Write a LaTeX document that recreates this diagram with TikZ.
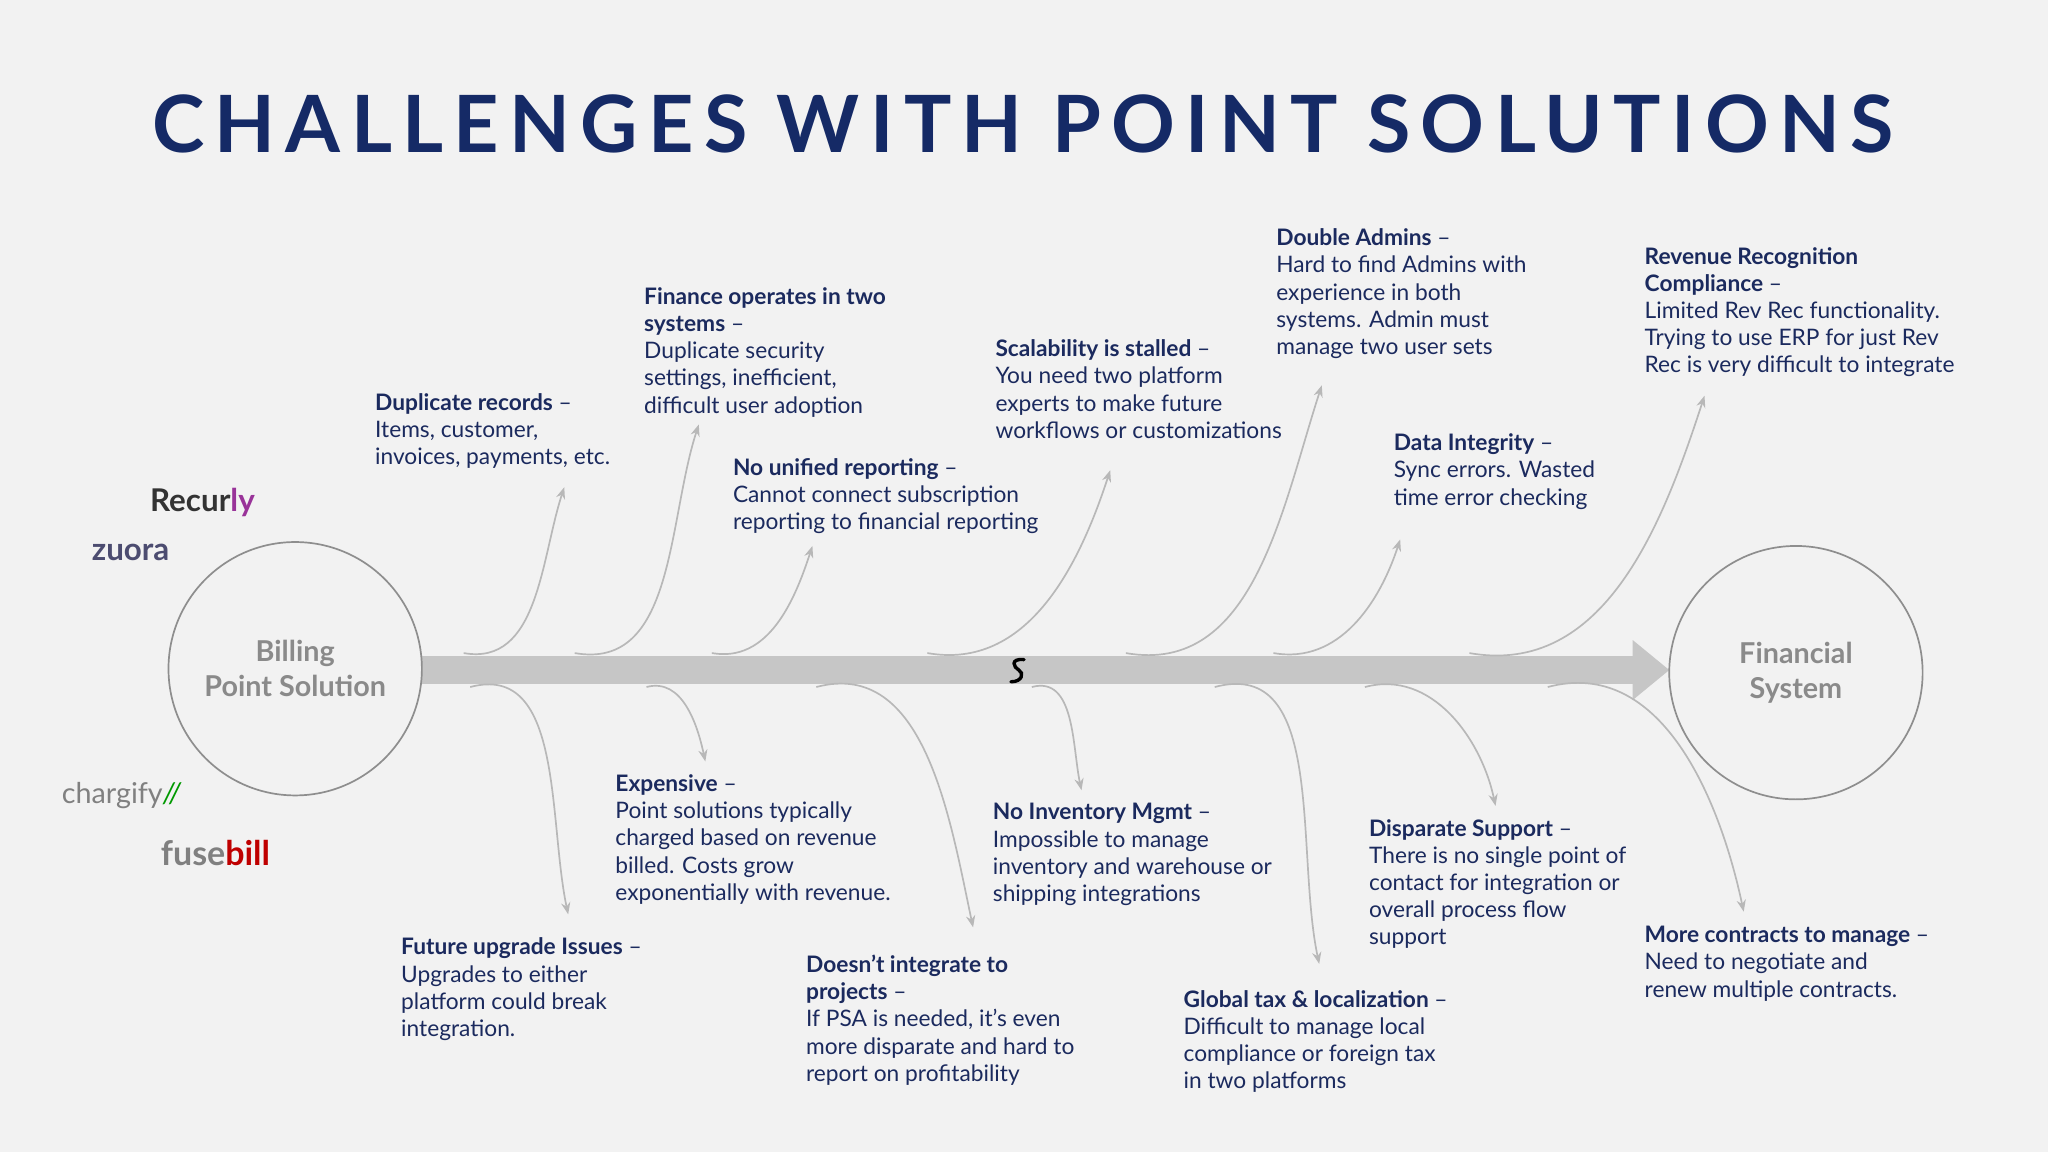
\documentclass[tikz,border=0pt]{standalone}
\usepackage{fontspec}
\setmainfont{Lato}
\newfontfamily\titlefont[LetterSpace=13]{Lato}
\usetikzlibrary{arrows.meta}
\definecolor{bg}{HTML}{F2F2F2}
\definecolor{navy}{HTML}{1B2A5E}
\definecolor{tnavy}{HTML}{152A66}
\definecolor{spine}{HTML}{C6C6C6}
\definecolor{branch}{HTML}{B8B8B8}
\definecolor{ring}{HTML}{8E8E8E}
\definecolor{ctext}{HTML}{8A8A8A}
\tikzset{
 txt/.style={anchor=north west,inner sep=0pt,align=left,text=navy,font=\fontsize{17.4}{20.8}\selectfont},
 br/.style={draw=branch,line width=1.3pt,-{Stealth[length=9pt,width=7pt]}},
 circ/.style={circle,draw=ring,line width=1.3pt,fill=bg,minimum size=194pt,text=ctext,align=center,font=\fontsize{22}{27}\selectfont\bfseries},
}
\begin{document}
\begin{tikzpicture}[x=1pt,y=-1pt]
\fill[bg] (0,0) rectangle (1568,882);
\useasboundingbox (0,0) rectangle (1568,882);
\node[text=tnavy,font=\fontsize{60.5}{61}\selectfont\titlefont\bfseries] (title) at (783,95) {CHALLENGES WITH POINT SOLUTIONS};
% spine
\fill[spine] (322,502) rectangle (1252,524);
\fill[spine] (1250,490) -- (1278,513) -- (1250,536) -- cycle;
\node[circ] (bill) at (226,512) {Billing\\Point Solution};
\node[circ] (fin) at (1375,515) {Financial\\System};
\coordinate (brk) at (779,513);
\draw[black,line width=2.6pt,line cap=round] ([shift={(5,-8)}]brk) .. controls ([shift={(-6,-9)}]brk) and ([shift={(-3,-2)}]brk) .. ([shift={(1,0)}]brk) .. controls ([shift={(5,2)}]brk) and ([shift={(4,9)}]brk) .. ([shift={(-5,9)}]brk);
% logos
\node[font=\fontsize{24}{24}\selectfont\bfseries,text=black!80] (recurly) at (155,385) {Recur\textcolor{violet!80}{ly}};
\node[font=\fontsize{24}{24}\selectfont\bfseries,text=black!65!blue!40!gray] (zuora) at (100,423) {zuora};
\node[font=\fontsize{22}{22}\selectfont,text=gray] (chargify) at (93,609) {chargify\textcolor{green!60!black}{\itshape//}};
\node[font=\fontsize{26}{26}\selectfont\bfseries,text=gray] (fusebill) at (165,653) {fuse\textcolor{red!75!black}{bill}};
% texts top
\node[txt] (t1) at (287,301) {\textbf{Duplicate records} –\\Items, customer,\\invoices, payments, etc.};
\node[txt] (t2) at (493,220) {\textbf{Finance operates in two}\\\textbf{systems} –\\Duplicate security\\settings, inefficient,\\difficult user adoption};
\node[txt] (t3) at (561,351) {\textbf{No unified reporting} –\\Cannot connect subscription\\reporting to financial reporting};
\node[txt] (t4) at (762,260) {\textbf{Scalability is stalled} –\\You need two platform\\experts to make future\\workflows or customizations};
\node[txt] (t5) at (977,175) {\textbf{Double Admins} –\\Hard to find Admins with\\experience in both\\systems. Admin must\\manage two user sets};
\node[txt] (t6) at (1067,332) {\textbf{Data Integrity} –\\Sync errors. Wasted\\time error checking};
\node[txt] (t7) at (1259,189) {\textbf{Revenue Recognition}\\\textbf{Compliance} –\\Limited Rev Rec functionality.\\Trying to use ERP for just Rev\\Rec is very difficult to integrate};
% texts bottom
\node[txt] (b1) at (307,718) {\textbf{Future upgrade Issues} –\\Upgrades to either\\platform could break\\integration.};
\node[txt] (b2) at (471,593) {\textbf{Expensive} –\\Point solutions typically\\charged based on revenue\\billed. Costs grow\\exponentially with revenue.};
\node[txt] (b3) at (617,731) {\textbf{Doesn’t integrate to}\\\textbf{projects} –\\If PSA is needed, it’s even\\more disparate and hard to\\report on profitability};
\node[txt] (b4) at (760,615) {\textbf{No Inventory Mgmt} –\\Impossible to manage\\inventory and warehouse or\\shipping integrations};
\node[txt] (b5) at (906,758) {\textbf{Global tax \& localization} –\\Difficult to manage local\\compliance or foreign tax\\in two platforms};
\node[txt] (b6) at (1048,627) {\textbf{Disparate Support} –\\There is no single point of\\contact for integration or\\overall process flow\\support};
\node[txt] (b7) at (1259,709) {\textbf{More contracts to manage} –\\Need to negotiate and\\renew multiple contracts.};
% branch coordinates
\foreach \n/\sx/\ex/\ey in {a1/355/432/373,a2/440/535/325,a3/545/622/418,a4/710/850/360,a5/862/1012/295,a6/975/1072/413,a7/1125/1305/303}{
 \coordinate (s\n) at (\sx,500); \coordinate (e\n) at (\ex,\ey);
 \draw[br] (s\n) to[out=-10,in=-108] (e\n);}
\foreach \n/\sx/\ex/\ey in {c1/360/435/700,c2/495/540/583,c3/625/745/710,c4/790/828/605,c5/930/1010/738,c6/1045/1145/617,c7/1185/1335/698}{
 \coordinate (s\n) at (\sx,526); \coordinate (e\n) at (\ex,\ey);
 \draw[br] (s\n) to[out=15,in=102] (e\n);}
\end{tikzpicture}
\end{document}
